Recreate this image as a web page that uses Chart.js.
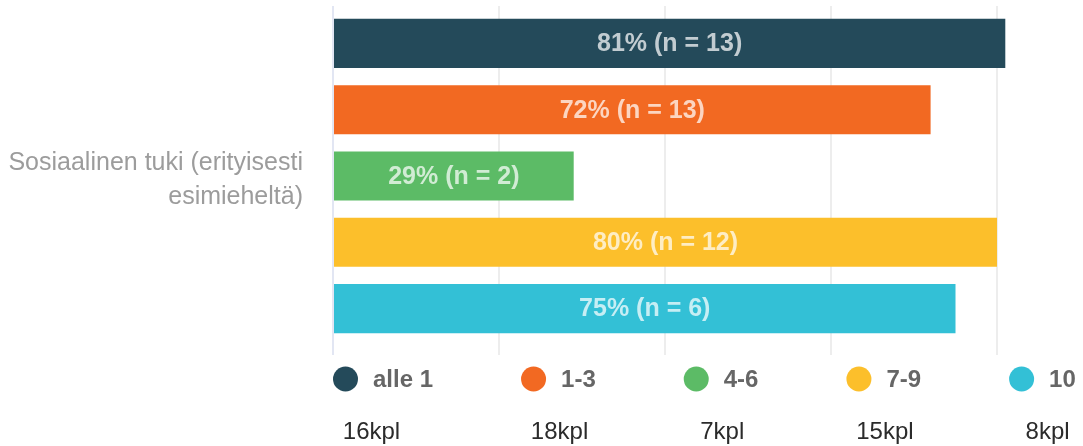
<!DOCTYPE html>
<html lang="fi">
<head>
<meta charset="utf-8">
<title>Sosiaalinen tuki</title>
<script src="https://cdn.jsdelivr.net/npm/chart.js@4/dist/chart.umd.min.js"></script>
<style>
  html, body { margin: 0; padding: 0; background: #fff; }
  #wrap { position: relative; width: 1083px; height: 446px; }
</style>
</head>
<body>
<div id="wrap"><canvas id="tukiChart"></canvas></div>
<script>
const categories = [['Sosiaalinen tuki (erityisesti', 'esimieheltä)']];
const groups = ['alle 1', '1-3', '4-6', '7-9', '10'];
const shares = [81, 72, 29, 80, 75];
const respondents = [13, 13, 2, 12, 6];
const groupTotals = ['16kpl', '18kpl', '7kpl', '15kpl', '8kpl'];
const groupColors = ['#244a5a', '#f26922', '#5cbb66', '#fcbf2b', '#33c0d6'];

const fontFamily = '"Liberation Sans", Arial, Helvetica, sans-serif';

// "81% (n = 13)" centred inside each bar
const barLabels = {
    id: 'barLabels',
    afterDatasetsDraw(chart) {
        const ctx = chart.ctx;
        ctx.save();
        ctx.font = 'bold 25px ' + fontFamily;
        ctx.fillStyle = 'rgba(255, 255, 255, 0.72)';
        ctx.textAlign = 'center';
        ctx.textBaseline = 'middle';
        chart.data.datasets.forEach((ds, i) => {
            const bar = chart.getDatasetMeta(i).data[0];
            if (!bar) return;
            const text = shares[i] + '% (n = ' + respondents[i] + ')';
            ctx.fillText(text, (bar.base + bar.x) / 2, bar.y + 1);
        });
        ctx.restore();
    }
};

// legend row with round markers, group sizes underneath
const groupLegend = {
    id: 'groupLegend',
    afterDraw(chart) {
        const ctx = chart.ctx;
        const area = chart.chartArea;
        const rowY = area.bottom + 33;
        const totalY = area.bottom + 86;
        let x = area.left;
        ctx.save();
        chart.data.datasets.forEach((ds, i) => {
            const cx = x + 12.5;
            ctx.beginPath();
            ctx.arc(cx, rowY, 12.5, 0, Math.PI * 2);
            ctx.fillStyle = ds.backgroundColor;
            ctx.fill();

            ctx.font = 'bold 24px ' + fontFamily;
            ctx.fillStyle = '#666';
            ctx.textAlign = 'left';
            ctx.textBaseline = 'middle';
            ctx.fillText(ds.label, x + 40, rowY + 1);
            const w = ctx.measureText(ds.label).width;

            ctx.font = '24px ' + fontFamily;
            ctx.fillStyle = '#2b2b2b';
            ctx.textAlign = 'center';
            ctx.fillText(groupTotals[i], cx + 26, totalY);

            x += 40 + w + 88;
        });
        ctx.restore();
    }
};

new Chart(document.getElementById('tukiChart'), {
    type: 'bar',
    data: {
        labels: categories,
        datasets: groups.map((g, i) => ({
            label: g,
            data: [shares[i]],
            backgroundColor: groupColors[i],
            borderWidth: 0,
            categoryPercentage: 0.975,
            barPercentage: 0.74
        }))
    },
    options: {
        indexAxis: 'y',
        responsive: true,
        maintainAspectRatio: false,
        animation: false,
        layout: { padding: { top: 6, right: 3, bottom: 91, left: 0 } },
        plugins: {
            legend: { display: false },
            tooltip: { enabled: false }
        },
        scales: {
            x: {
                min: 0,
                max: 90,
                ticks: { display: false, stepSize: 20, includeBounds: false },
                grid: {
                    color: (c) => (c.tick && c.tick.value === 0) ? '#e2e6f3' : '#ededed',
                    lineWidth: 2,
                    tickLength: 9
                },
                border: { display: false }
            },
            y: {
                grid: { display: false, drawTicks: false },
                border: { display: false },
                ticks: {
                    padding: 30,
                    labelOffset: 4,
                    color: '#9c9c9c',
                    font: { family: fontFamily, size: 25, lineHeight: 1.35 }
                },
                afterFit(scale) {
                    scale.width = 333;
                    scale.paddingTop = 0;
                    scale.paddingBottom = 0;
                }
            }
        }
    },
    plugins: [barLabels, groupLegend]
});
</script>
</body>
</html>
